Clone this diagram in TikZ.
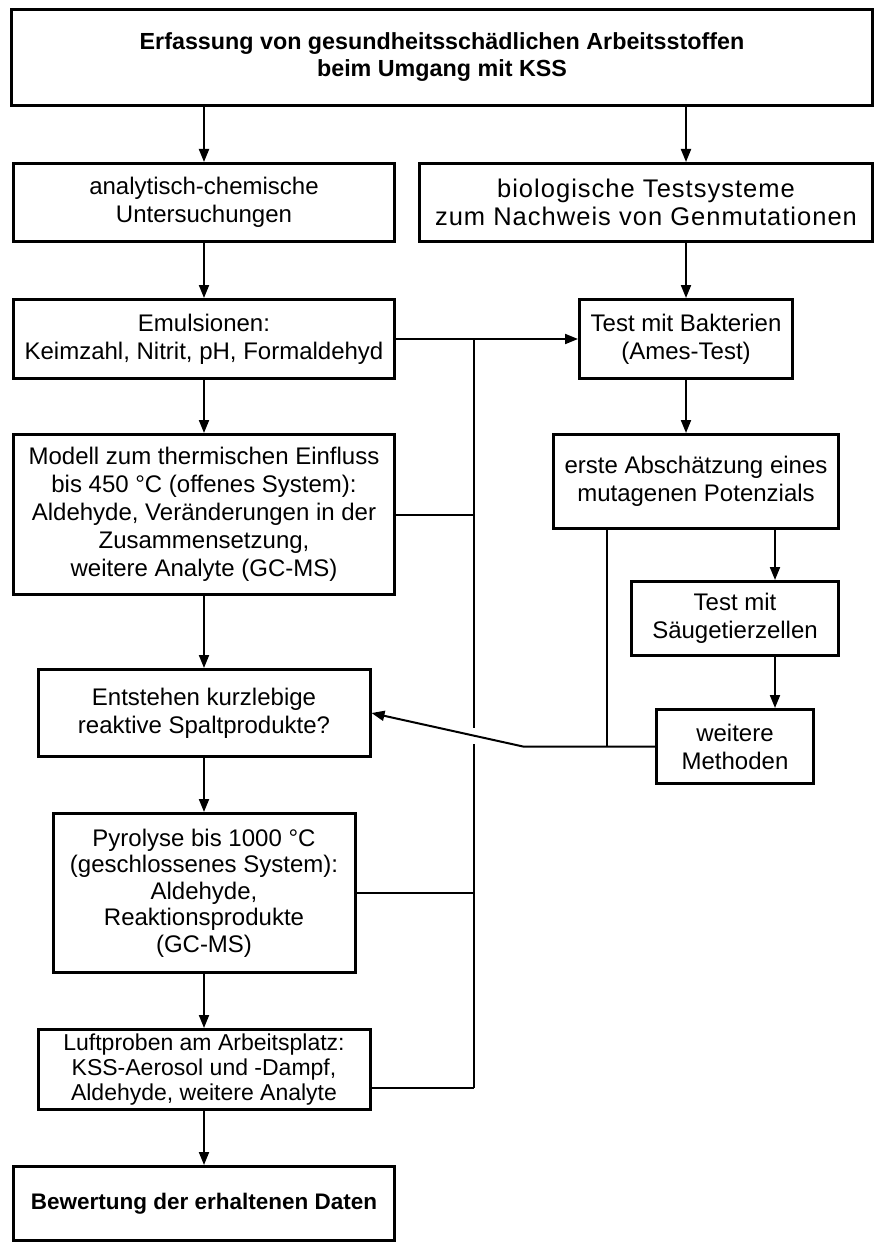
\documentclass[tikz,border=0pt]{standalone}
\usepackage{fontspec}
\setmainfont{Liberation Sans}
\usetikzlibrary{arrows.meta}

\begin{document}
\begin{tikzpicture}[x=1pt,y=-1pt,->,>={Triangle[length=13pt,width=10pt]},line width=2pt,
    box/.style 2 args={draw,-,line width=3pt,align=center,inner sep=0pt,
      minimum width=#1pt,minimum height=#2pt,font=\fontsize{24}{28}\selectfont},
    boldbox/.style 2 args={box={#1}{#2},font=\fontsize{23.3}{27}\selectfont\bfseries}]
    \useasboundingbox (0,0) rectangle (884,1260);
    \node[boldbox={861}{96}] (top) at (442,57.5) {Erfassung von gesundheitsschädlichen Arbeitsstoffen\\beim Umgang mit KSS};
    \node[box={381}{78}] (ana) at (204,202.5) {analytisch-chemische\\Untersuchungen};
    \node[box={453}{78},font=\fontsize{25.5}{28}\selectfont\addfontfeature{LetterSpace=4}] (bio) at (646,202.5) {biologische Testsysteme\\zum Nachweis von Genmutationen};
    \node[box={381}{79}] (emu) at (204,339) {Emulsionen:\\Keimzahl, Nitrit, pH, Formaldehyd};
    \node[box={213}{79}] (bak) at (686,339) {Test mit Bakterien\\(Ames-Test)};
    \node[box={381}{160}] (mod) at (204,514.5) {Modell zum thermischen Einfluss\\bis 450 °C (offenes System):\\Aldehyde, Veränderungen in der\\Zusammensetzung,\\weitere Analyte (GC-MS)};
    \node[box={285}{94}] (ers) at (696,481.5) {erste Abschätzung eines\\mutagenen Potenzials};
    \node[box={207}{74}] (saeu) at (735,618.5) {Test mit\\Säugetierzellen};
    \node[box={157}{74}] (wei) at (735,746.5) {weitere\\Methoden};
    \node[box={332}{87}] (ent) at (204,713) {Entstehen kurzlebige\\reaktive Spaltprodukte?};
    \node[box={302}{159},font=\fontsize{24}{26.5}\selectfont] (pyr) at (204,893) {Pyrolyse bis 1000 °C\\(geschlossenes System):\\Aldehyde,\\Reaktionsprodukte\\(GC-MS)};
    \node[box={332}{80},font=\fontsize{23}{25}\selectfont] (luf) at (204,1069.5) {Luftproben am Arbeitsplatz:\\KSS-Aerosol und -Dampf,\\Aldehyde, weitere Analyte};
    \node[boldbox={381}{74},font=\fontsize{22.5}{27}\selectfont\bfseries] (bew) at (204,1203.5) {Bewertung der erhaltenen Daten};

    % left column
    \draw (ana.north |- top.south) -- (ana.north);
    \draw (ana.south) -- (emu.north);
    \draw (emu.south) -- (mod.north);
    \draw (mod.south) -- (ent.north);
    \draw (ent.south) -- (pyr.north);
    \draw (pyr.south) -- (luf.north);
    \draw (luf.south) -- (bew.north);

    % right column
    \coordinate (rx) at (775,0);
    \draw (top.south -| bak.north) -- (bak.north |- bio.north);
    \draw (bio.south -| bak.north) -- (bak.north);
    \draw (bak.south) -- (bak.south |- ers.north);
    \draw (ers.south -| rx) -- (saeu.north -| rx);
    \draw (saeu.south -| rx) -- (wei.north -| rx);

    % collecting line
    \coordinate (vx) at (474,0);
    \coordinate (gapA) at (474,728);
    \coordinate (gapB) at (474,744);
    \coordinate (vbot) at (474,1088);
    \draw (emu.east) -- (bak.west);
    \draw[-] (emu.east -| vx) -- (gapA);
    \draw[-] (gapB) -- (vbot);
    \draw[-] (mod.east) -- (mod.east -| vx);
    \draw[-] (pyr.east) -- (pyr.east -| vx);
    \draw[-] (luf.east |- vbot) -- (vbot);

    % back to the left
    \path (wei.west) ++(-132,0) coordinate (kink);
    \coordinate (ex) at (607,0);
    \draw[-] (ers.south -| ex) -- (ex |- wei.west);
    \draw (wei.west) -- (kink) -- (ent.east);
\end{tikzpicture}
\end{document}
